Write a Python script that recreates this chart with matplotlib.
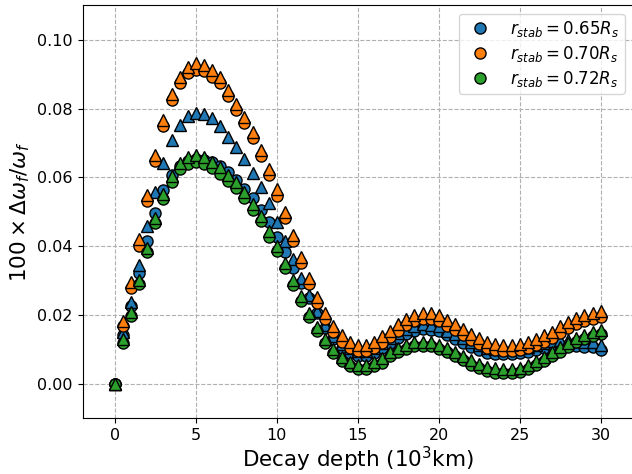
import matplotlib
matplotlib.use("Agg")
import matplotlib.pyplot as plt
import numpy as np

depth = np.arange(0, 30.5, 0.5)

labels = [r"$r_{stab} = 0.65R_s$", r"$r_{stab} = 0.70R_s$", r"$r_{stab} = 0.72R_s$"]
colors = ["#1f77b4", "#ff7f0e", "#2ca02c"]

blue_circ = [0.0, 0.0141, 0.0225, 0.0321, 0.0416, 0.0497, 0.0563, 0.0607, 0.0634, 0.0648,
             0.0653, 0.0650, 0.0644, 0.0634, 0.0617, 0.0592, 0.0565, 0.0539, 0.0505, 0.0471,
             0.0428, 0.0384, 0.0336, 0.0293, 0.0250, 0.0207, 0.0163, 0.0131, 0.0104, 0.0090,
             0.0082, 0.0082, 0.0090, 0.0104, 0.0120, 0.0133, 0.0145, 0.0154, 0.0159, 0.0158,
             0.0153, 0.0141, 0.0131, 0.0119, 0.0107, 0.0098, 0.0091, 0.0088, 0.0086, 0.0086,
             0.0089, 0.0094, 0.0099, 0.0105, 0.0111, 0.0113, 0.0112, 0.0110, 0.0108, 0.0106,
             0.0098]
blue_tri = [0.0, 0.0151, 0.0238, 0.0345, 0.0459, 0.0558, 0.0643, 0.0709, 0.0753, 0.0779,
            0.0787, 0.0785, 0.0772, 0.0748, 0.0718, 0.0689, 0.0653, 0.0614, 0.0571, 0.0525,
            0.0471, 0.0416, 0.0362, 0.0308, 0.0258, 0.0211, 0.0172, 0.0140, 0.0115, 0.0103,
            0.0096, 0.0096, 0.0104, 0.0118, 0.0134, 0.0147, 0.0159, 0.0168, 0.0173, 0.0172,
            0.0167, 0.0155, 0.0145, 0.0133, 0.0121, 0.0112, 0.0105, 0.0102, 0.0100, 0.0100,
            0.0103, 0.0108, 0.0113, 0.0119, 0.0125, 0.0128, 0.0127, 0.0125, 0.0123, 0.0121,
            0.0113]
orange_circ = [0.0, 0.0168, 0.0280, 0.0402, 0.0531, 0.0648, 0.0750, 0.0824, 0.0874, 0.0903,
               0.0913, 0.0908, 0.0893, 0.0873, 0.0836, 0.0796, 0.0757, 0.0713, 0.0663, 0.0607,
               0.0547, 0.0482, 0.0416, 0.0351, 0.0290, 0.0235, 0.0188, 0.0151, 0.0123, 0.0103,
               0.0096, 0.0096, 0.0103, 0.0120, 0.0137, 0.0155, 0.0171, 0.0183, 0.0189, 0.0189,
               0.0183, 0.0169, 0.0157, 0.0142, 0.0128, 0.0115, 0.0105, 0.0098, 0.0096, 0.0096,
               0.0098, 0.0103, 0.0113, 0.0123, 0.0134, 0.0149, 0.0161, 0.0173, 0.0183, 0.0189,
               0.0193]
orange_tri = [0.0, 0.0184, 0.0297, 0.0420, 0.0549, 0.0666, 0.0768, 0.0842, 0.0892, 0.0921,
              0.0931, 0.0926, 0.0911, 0.0891, 0.0854, 0.0814, 0.0775, 0.0731, 0.0681, 0.0625,
              0.0565, 0.0500, 0.0434, 0.0369, 0.0308, 0.0253, 0.0206, 0.0169, 0.0141, 0.0121,
              0.0114, 0.0114, 0.0121, 0.0138, 0.0155, 0.0173, 0.0189, 0.0201, 0.0207, 0.0207,
              0.0201, 0.0187, 0.0175, 0.0160, 0.0146, 0.0133, 0.0123, 0.0116, 0.0114, 0.0114,
              0.0116, 0.0121, 0.0131, 0.0141, 0.0152, 0.0167, 0.0179, 0.0191, 0.0201, 0.0207,
              0.0211]
green_circ = [0.0, 0.0120, 0.0198, 0.0290, 0.0382, 0.0468, 0.0536, 0.0586, 0.0623, 0.0639,
              0.0644, 0.0639, 0.0626, 0.0610, 0.0590, 0.0569, 0.0540, 0.0506, 0.0472, 0.0428,
              0.0385, 0.0338, 0.0288, 0.0241, 0.0195, 0.0154, 0.0118, 0.0089, 0.0066, 0.0052,
              0.0044, 0.0044, 0.0051, 0.0062, 0.0080, 0.0092, 0.0102, 0.0109, 0.0111, 0.0109,
              0.0102, 0.0093, 0.0081, 0.0068, 0.0056, 0.0047, 0.0038, 0.0033, 0.0031, 0.0031,
              0.0035, 0.0042, 0.0054, 0.0066, 0.0080, 0.0094, 0.0108, 0.0122, 0.0131, 0.0139,
              0.0144]
green_tri = [0.0, 0.0130, 0.0210, 0.0303, 0.0396, 0.0483, 0.0552, 0.0603, 0.0641, 0.0658,
             0.0664, 0.0659, 0.0645, 0.0629, 0.0608, 0.0587, 0.0557, 0.0523, 0.0488, 0.0444,
             0.0400, 0.0352, 0.0302, 0.0254, 0.0207, 0.0166, 0.0130, 0.0101, 0.0078, 0.0064,
             0.0056, 0.0056, 0.0063, 0.0074, 0.0092, 0.0104, 0.0114, 0.0121, 0.0123, 0.0121,
             0.0114, 0.0105, 0.0093, 0.0080, 0.0068, 0.0059, 0.0050, 0.0045, 0.0043, 0.0043,
             0.0047, 0.0054, 0.0066, 0.0078, 0.0092, 0.0106, 0.0120, 0.0134, 0.0143, 0.0151,
             0.0156]

circles = [blue_circ, orange_circ, green_circ]
triangles = [blue_tri, orange_tri, green_tri]

fig = plt.figure(figsize=(6.32, 4.74), dpi=100)
ax = fig.add_axes([82.5 / 632, (474 - 418.3) / 474, (633 - 82.5) / 632, (418.3 - 5.3) / 474])
ax.set_axisbelow(True)
ax.grid(True, linestyle="--", color="#b0b0b0", linewidth=0.8)

for c, t, col, lab in zip(circles, triangles, colors, labels):
    ax.plot(depth, c, "o", color=col, mec="black", mew=1.0, ms=8, label=lab, linestyle="none")
    ax.plot(depth, t, "^", color=col, mec="black", mew=1.0, ms=8, linestyle="none")

ax.set_xlim(-2, 32)
ax.set_ylim(-0.01, 0.11)
ax.set_xticks([0, 5, 10, 15, 20, 25, 30])
ax.set_yticks([0.0, 0.02, 0.04, 0.06, 0.08, 0.10])
ax.yaxis.set_major_formatter(matplotlib.ticker.FormatStrFormatter("%.2f"))
ax.tick_params(labelsize=11.5)
ax.set_xlabel(r"Decay depth ($10^3$km)", fontsize=15.5, labelpad=1.5)
ax.set_ylabel(r"$100 \times \Delta\omega_f/\omega_f$", fontsize=15.5)
ax.legend(loc="upper right", fontsize=12, labelspacing=0.3, borderpad=0.3)

fig.savefig("out.png", dpi=100)
